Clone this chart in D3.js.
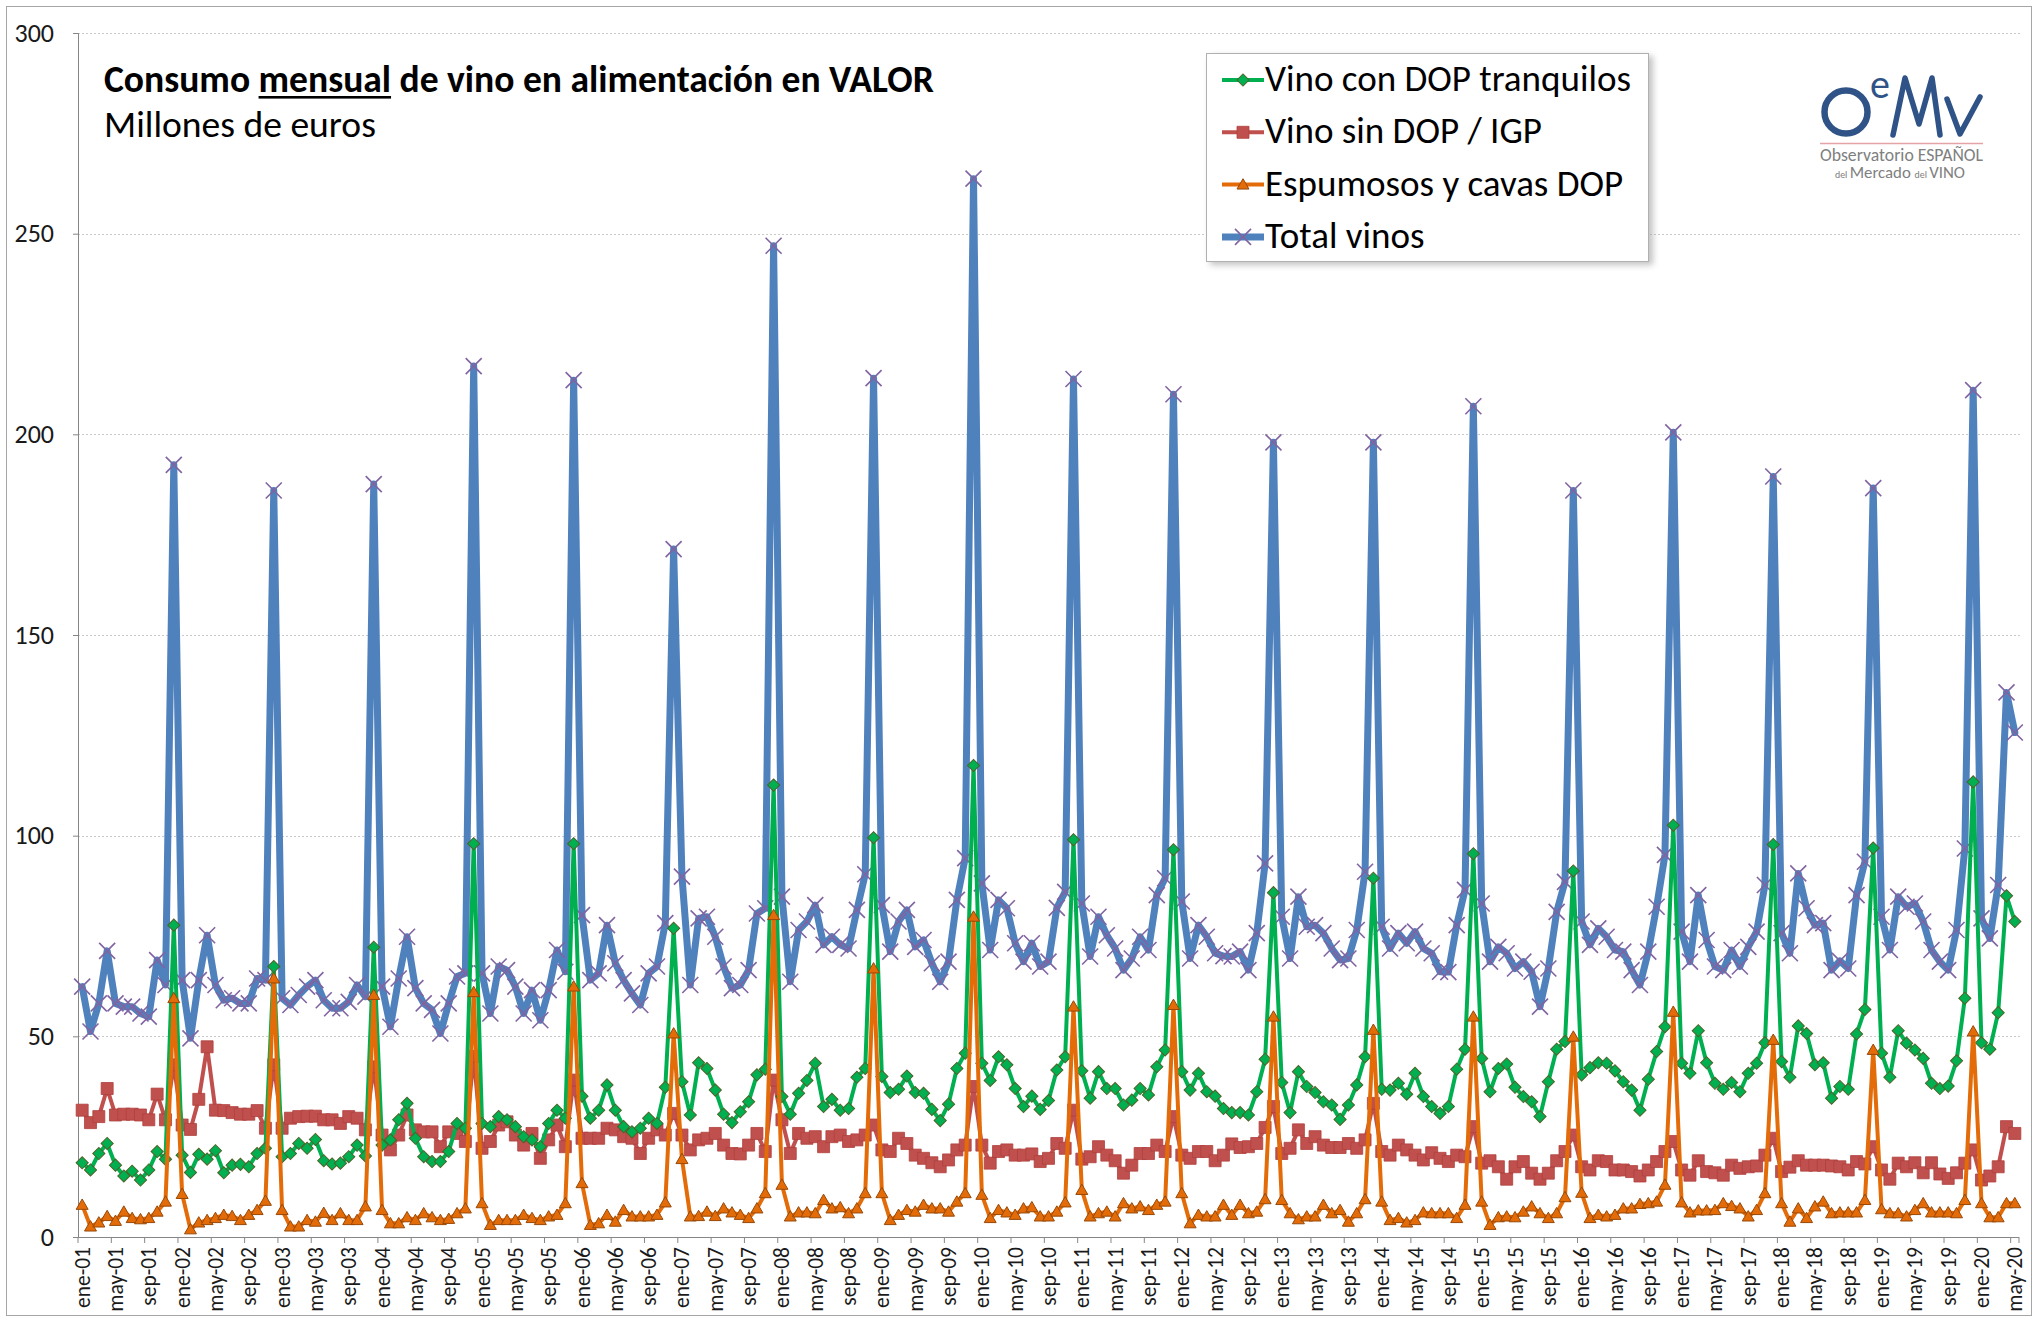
<!DOCTYPE html>
<html>
<head>
<meta charset="utf-8">
<script src="https://cdn.jsdelivr.net/npm/d3@7"></script>
<style>
    body { margin: 0; background: #fff; }
    svg { display: block; }
    text { font-family: Carlito, Calibri, Lato, 'Open Sans', sans-serif; }
</style>
</head>
<body>
<svg id="chart" width="2039" height="1323"></svg>
<script>
(function () {
    'use strict';

    // categories: ene-01 .. may-20
    var MONTHS = ['ene', 'feb', 'mar', 'abr', 'may', 'jun', 'jul', 'ago', 'sep', 'oct', 'nov', 'dic'];
    var FIRST_YEAR = 2001;
    var N_MONTHS = 233;
    var Y_TICKS = [0, 50, 100, 150, 200, 250, 300];

    var SERIES_NAMES = ['Vino con DOP tranquilos', 'Vino sin DOP / IGP', 'Espumosos y cavas DOP', 'Total vinos'];

    var dopTranquilos = [
        18.5, 16.7, 20.8, 23.3, 17.9, 15.2, 16.4, 14.2, 16.7, 21.3, 19.4, 77.7,
        20.4, 16.1, 20.6, 19.4, 21.5, 16, 17.9, 18.1, 17.5, 20.8, 22.1, 67.4,
        20, 20.8, 23.3, 22.1, 24.3, 19, 18.2, 18.4, 20, 22.9, 20.2, 72.2,
        22.9, 24.2, 29.2, 33.3, 24.6, 20, 18.8, 18.8, 21.3, 28.3, 27.1, 98,
        28.3, 27.5, 30, 29.2, 27.5, 25, 24.2, 22.5, 28.3, 31.6, 29.6, 98,
        35.1, 29.6, 31.6, 37.9, 31.6, 27.5, 26.2, 27.1, 29.6, 28.3, 37.3, 76.9,
        38.7, 30.4, 43.4, 42, 36.6, 30.6, 28.5, 31.2, 33.7, 40.4, 41.8, 112.6,
        35, 30.6, 35.8, 39, 43.3, 32.5, 34.3, 31.6, 32, 39.8, 42, 99.5,
        40, 36, 36.8, 40.1, 36, 35.8, 31.8, 29, 33.1, 42, 45.8, 117.5,
        43.3, 39, 44.9, 42.9, 37, 32.5, 35.1, 31.8, 34, 41.6, 44.9, 99,
        41.4, 34.6, 41.2, 37, 37, 32.9, 34.1, 37, 35.4, 42.4, 46.6, 96.5,
        41.2, 36.6, 40.8, 36.2, 35.1, 32, 31, 31, 30.4, 36.2, 44.3, 85.8,
        38.5, 31, 41.2, 37.5, 36, 33.7, 32.9, 29.3, 32.9, 37.9, 44.9, 89.4,
        36.8, 36.6, 38.3, 35.6, 40.8, 35, 32.5, 30.8, 32.5, 41.8, 46.8, 95.5,
        44.5, 36.2, 42, 43.1, 37.3, 35, 33.7, 30, 38.7, 46.8, 48.7, 91.2,
        40.4, 42.2, 43.4, 43.3, 41.4, 38.7, 36.6, 31.6, 39.3, 46.2, 52.4, 102.6,
        43.3, 40.8, 51.4, 43.4, 38.3, 36.8, 38.5, 36.2, 40.8, 43.3, 48.4, 97.8,
        43.7, 39.8, 52.6, 50.7, 42.9, 43.4, 34.6, 37.5, 36.8, 50.6, 56.7, 96.9,
        45.8, 39.8, 51.4, 48.3, 46.6, 44.5, 38.3, 37, 37.6, 43.9, 59.5, 113.4,
        48.4, 46.8, 55.9, 85, 78.6
    ];

    var sinDop = [
        31.6, 28.5, 30, 37, 30.4, 30.6, 30.6, 30.4, 29.2, 35.6, 29.2, 42.9,
        27.9, 26.8, 34.3, 47.4, 31.6, 31.5, 31, 30.6, 30.6, 31.5, 27.1, 42.9,
        27.1, 29.6, 30, 30.1, 30.1, 29.2, 29.2, 28.3, 30, 29.6, 26.7, 42.4,
        25.4, 21.7, 25.4, 30.4, 26.7, 26.2, 26.2, 22.5, 26.2, 25.8, 23.8, 45,
        22.1, 23.8, 27.9, 28.7, 25.4, 22.9, 25.8, 19.6, 24.2, 27.9, 22.5, 39.1,
        24.6, 24.6, 24.6, 27.1, 26.7, 25, 24.6, 20.8, 24.6, 26.7, 25.4, 30.8,
        25.4, 21.7, 24.2, 24.6, 25.8, 22.9, 20.8, 20.7, 22.9, 25.8, 21.3, 39.1,
        29.2, 20.8, 25.8, 24.6, 25, 22.5, 25, 25.4, 23.8, 24.2, 25.4, 27.9,
        21.7, 21.3, 24.6, 23.3, 20.4, 19.6, 18.5, 17.5, 19.2, 21.7, 22.9, 37.5,
        22.9, 18.4, 21.3, 21.7, 20.4, 20.4, 20.7, 18.8, 19.6, 23.3, 22.1, 31.6,
        19.4, 20, 22.5, 20.4, 19, 15.9, 17.9, 20.8, 20.8, 22.9, 21.3, 30,
        20.4, 19.6, 21.3, 21.3, 19, 20.4, 23.2, 22.3, 22.5, 23.3, 27.3, 32.5,
        20.8, 22.1, 26.7, 23.3, 25, 22.9, 22.3, 22.3, 23.3, 22.1, 24.2, 33.3,
        21.3, 20.4, 22.9, 21.7, 20.4, 19.2, 21, 19.6, 18.8, 20.4, 20, 27.5,
        18.4, 19, 17.5, 14.4, 17.5, 18.8, 15.9, 14.4, 15.9, 19, 21.3, 25.4,
        17.5, 16.7, 19, 18.8, 16.7, 16.7, 16.3, 15.2, 16.7, 18.8, 21.3, 23.8,
        16.7, 15.4, 19, 16.3, 16, 15.4, 17.9, 17.1, 17.5, 17.7, 20.4, 24.6,
        16.3, 17.4, 19, 17.9, 17.9, 17.9, 17.7, 17.5, 16.7, 18.8, 18.2, 22.5,
        16.7, 14.4, 18.4, 17.5, 18.5, 16, 18.5, 15.7, 14.6, 16, 18.4, 21.7,
        14.2, 15.2, 17.5, 27.5, 25.8
    ];

    var espumosos = [
        8, 2.6, 3.6, 5.2, 4, 6.3, 4.7, 4.4, 4.7, 6.3, 8.8, 59.5,
        10.7, 1.9, 3.6, 4.2, 4.7, 5.5, 5.2, 4.2, 5.5, 6.7, 9, 64.4,
        6.7, 2.6, 2.6, 4.2, 3.8, 6, 4.2, 5.9, 4.2, 4.2, 7.6, 60.3,
        6.7, 3.4, 3.4, 4.9, 4.2, 5.9, 4.9, 4.2, 4.5, 5.9, 7.1, 61,
        8.4, 3, 4.2, 4.2, 4.2, 5.5, 4.7, 4.2, 5.1, 5.5, 8.4, 62.4,
        13.4, 3, 3.4, 5.5, 3.8, 6.7, 5.1, 5.1, 5.1, 5.5, 8.6, 50.7,
        19.4, 5.1, 5.2, 6.3, 5.2, 7.1, 6.1, 5.5, 4.7, 7.1, 10.9, 80.2,
        13, 5.1, 6.1, 6.1, 5.9, 9.2, 7.1, 7.4, 5.9, 7.1, 10.9, 66.9,
        10.9, 4.2, 5.5, 6.7, 6.3, 8, 7.1, 7.1, 6.3, 8.8, 10.9, 79.8,
        10.5, 4.7, 6.7, 6.1, 5.5, 7.1, 7.4, 5.1, 5.1, 6.3, 8.6, 57.4,
        11.7, 5.1, 5.9, 6.3, 5.1, 8.4, 7.1, 7.6, 6.7, 8, 8.8, 57.8,
        10.9, 3.4, 5.5, 5.1, 5.1, 8, 5.5, 8, 5.9, 6.3, 9.4, 54.9,
        9.2, 5.9, 4.4, 5.1, 5.1, 8, 5.9, 6.7, 3.8, 5.9, 9.4, 51.6,
        8.8, 4.2, 4.7, 3.6, 4.2, 6.1, 5.9, 5.9, 5.9, 4.7, 8, 54.9,
        8.8, 3, 4.9, 5.1, 4.9, 6.3, 7.6, 5.9, 4.7, 5.9, 9.9, 49.9,
        11, 4.7, 5.5, 5.1, 5.5, 7.1, 7.1, 8.2, 8.4, 8.8, 13, 56.1,
        8.6, 6.1, 6.6, 6.6, 6.7, 8.4, 7.7, 7.1, 5.1, 6.7, 10.9, 49.1,
        8.4, 3.8, 7.1, 4.7, 7.6, 8.8, 5.9, 6.1, 6.1, 6.1, 9.2, 46.6,
        6.9, 5.9, 5.9, 5.1, 6.7, 8.4, 6.1, 6.1, 6.1, 5.9, 9.2, 51.2,
        8.4, 4.9, 4.9, 8.4, 8.4
    ];

    var totalVinos = [
        62.4, 51.2, 58.2, 71.3, 58.2, 57.4, 57.4, 55.7, 54.9, 69, 62.8, 192.4,
        64, 49.5, 64, 75.2, 62.8, 59, 59.5, 58.2, 58.2, 64.4, 64, 186,
        59.5, 57.8, 60.3, 62.4, 64, 59, 57, 57, 58.6, 62.8, 59.9, 187.6,
        62.4, 52.4, 64.4, 74.8, 62, 58.2, 56.6, 50.7, 58.2, 64.9, 65.7, 217,
        65.7, 55.7, 67.4, 66.5, 62.4, 55.7, 61.5, 54, 61.5, 71.5, 66.1, 213.5,
        80.2, 64, 65.7, 77.7, 68.2, 64, 60.7, 57.8, 65.7, 67.4, 78.2, 171.4,
        89.8, 62.8, 79.4, 79.8, 74.8, 67.4, 62, 62.8, 66.5, 80.6, 81.9, 247,
        84.8, 63.6, 76.5, 78.6, 82.7, 72.8, 74.8, 72.8, 71.9, 81.5, 90.4, 214,
        82.7, 71.1, 78.6, 81.5, 72.3, 74, 68.2, 63.6, 68.6, 84, 94.4, 263.7,
        88.1, 71.5, 84, 81.9, 73.2, 68.6, 73.2, 67.4, 68.6, 82, 86, 213.8,
        83.1, 69.9, 79.8, 75.2, 71.9, 66.5, 69.4, 74.8, 71.5, 85.2, 89.4, 210,
        83.6, 69.4, 77.7, 74.8, 70.7, 70, 69.9, 71.1, 66.5, 75.7, 93.1, 198,
        79.8, 69.4, 84.8, 77.3, 77.7, 75.7, 71.9, 69, 69.4, 76.5, 91, 198,
        77.3, 71.9, 75.7, 73.2, 76.1, 71.9, 70.7, 66.1, 66, 77.7, 86.5, 207,
        83.1, 68.6, 72.3, 70.7, 66.9, 68.6, 66.1, 57.4, 66.9, 81, 88.5, 186,
        78.6, 72.8, 76.9, 74.8, 71.5, 71.1, 66.5, 62.8, 71.1, 82.3, 95.2, 200.5,
        76.1, 68.6, 85.2, 74, 67.4, 66.5, 71.5, 67.4, 72.3, 76.1, 87.7, 189.5,
        75.7, 70.7, 90.6, 81.9, 77.7, 78.2, 66.5, 68.8, 66.9, 85.2, 93.5, 186.6,
        79.8, 71.5, 84.8, 82.3, 83.1, 78.6, 71.5, 68.6, 66.5, 76.5, 96.8, 211,
        79.4, 74.4, 87.7, 135.7, 125.7
    ];

    var categories = d3.range(N_MONTHS).map(function (i) {
        var yy = (FIRST_YEAR + Math.floor(i / 12)) % 100;
        return MONTHS[i % 12] + '-' + (yy < 10 ? '0' + yy : '' + yy);
    });

    var svg = d3.select('#chart');
    var W = 2039, H = 1323;
    var plot = { left: 78, right: 2019, top: 33, bottom: 1237 };

    var x = d3.scaleBand()
        .domain(d3.range(N_MONTHS))
        .range([plot.left, plot.right])
        .paddingInner(0)
        .paddingOuter(0);

    var cx = function (i) { return x(i) + x.bandwidth() / 2; };

    var y = d3.scaleLinear()
        .domain([0, 300])
        .range([plot.bottom, plot.top]);

    // outer frame
    svg.append('rect')
        .attr('x', 6.5).attr('y', 6.5)
        .attr('width', W - 14).attr('height', H - 14)
        .attr('fill', '#fff')
        .attr('stroke', '#a6a6a6')
        .attr('stroke-width', 1);

    // grid
    svg.append('g')
        .selectAll('line')
        .data(Y_TICKS.filter(function (v) { return v > 0; }))
        .enter().append('line')
        .attr('x1', plot.left).attr('x2', plot.right + 3)
        .attr('y1', function (d) { return Math.round(y(d)) + 0.5; })
        .attr('y2', function (d) { return Math.round(y(d)) + 0.5; })
        .attr('stroke', '#c9c9c9')
        .attr('stroke-dasharray', '2,2');

    // y axis
    var yAxis = svg.append('g')
        .attr('transform', 'translate(' + plot.left + ',0)')
        .call(d3.axisLeft(y).tickValues(Y_TICKS).tickSize(5).tickPadding(19));
    yAxis.select('.domain').attr('stroke', '#868686');
    yAxis.selectAll('.tick line').attr('stroke', '#868686');
    yAxis.selectAll('.tick text')
        .attr('font-size', 26)
        .attr('fill', '#1a1a1a')
        .style('font-family', 'Carlito, Calibri, Lato, sans-serif');

    // x axis
    var tickIdx = d3.range(0, N_MONTHS, 4);
    var xg = svg.append('g');
    xg.append('line')
        .attr('x1', plot.left).attr('x2', plot.right)
        .attr('y1', plot.bottom + 0.5).attr('y2', plot.bottom + 0.5)
        .attr('stroke', '#868686');
    xg.selectAll('line.tk')
        .data(tickIdx.concat([N_MONTHS]))
        .enter().append('line')
        .attr('class', 'tk')
        .attr('x1', function (i) { return i < N_MONTHS ? x(i) : plot.right; })
        .attr('x2', function (i) { return i < N_MONTHS ? x(i) : plot.right; })
        .attr('y1', plot.bottom)
        .attr('y2', plot.bottom + 6)
        .attr('stroke', '#868686');
    var xl = xg.selectAll('text')
        .data(tickIdx)
        .enter().append('text')
        .attr('transform', function (i) {
            return 'translate(' + cx(i) + ',' + (plot.bottom + 10) + ') rotate(-90)';
        })
        .attr('dy', '0.35em')
        .attr('text-anchor', 'end')
        .attr('font-size', 20)
        .attr('fill', '#1a1a1a')
        .text(function (i) { return categories[i]; });
    fitFont(d3.select(xl.nodes()[0]), 61, xl);

    // series
    var series = [
        { name: SERIES_NAMES[3], values: totalVinos, color: '#4f81bd', width: 7, marker: 'x' },
        { name: SERIES_NAMES[1], values: sinDop, color: '#c0504d', width: 4, marker: 'square' },
        { name: SERIES_NAMES[0], values: dopTranquilos, color: '#00b050', width: 4, marker: 'diamond' },
        { name: SERIES_NAMES[2], values: espumosos, color: '#e36c09', width: 4, marker: 'triangle' }
    ];

    var line = d3.line()
        .x(function (d, i) { return cx(i); })
        .y(function (d) { return y(d); });

    var symSquare = d3.symbol().type(d3.symbolSquare).size(144)();
    var symDiamond = d3.symbol().type(d3.symbolSquare).size(74)();
    var symTriangle = d3.symbol().type(d3.symbolTriangle).size(62)();
    var symX = 'M-8,-8L8,8M-8,8L8,-8';

    function drawMarker(g, kind, color) {
        if (kind === 'x') {
            g.append('path').attr('d', symX)
                .attr('fill', 'none').attr('stroke', '#8064a2').attr('stroke-width', 1.6);
        } else if (kind === 'square') {
            g.append('path').attr('d', symSquare)
                .attr('fill', color).attr('stroke', '#b0403d').attr('stroke-width', 0.8);
        } else if (kind === 'diamond') {
            g.append('path').attr('d', symDiamond)
                .attr('transform', 'rotate(45)')
                .attr('fill', color).attr('stroke', '#4f6228').attr('stroke-width', 1);
        } else {
            g.append('path').attr('d', symTriangle)
                .attr('transform', 'translate(0,1)')
                .attr('fill', color).attr('stroke', '#984807').attr('stroke-width', 1);
        }
    }

    series.forEach(function (s) {
        var g = svg.append('g');
        g.append('path')
            .datum(s.values)
            .attr('d', line)
            .attr('fill', 'none')
            .attr('stroke', s.color)
            .attr('stroke-width', s.width)
            .attr('stroke-linejoin', 'round')
            .attr('stroke-linecap', 'round');
        g.selectAll('g.m')
            .data(s.values)
            .enter().append('g')
            .attr('class', 'm')
            .attr('transform', function (d, i) {
                return 'translate(' + cx(i) + ',' + y(d) + ')';
            })
            .each(function () { drawMarker(d3.select(this), s.marker, s.color); });
    });

    // title
    var title = svg.append('text')
        .attr('x', 104).attr('y', 92)
        .attr('font-size', 31)
        .attr('font-weight', 'bold')
        .attr('fill', '#000');
    title.append('tspan').text('Consumo ');
    title.append('tspan').text('mensual');
    title.append('tspan').text(' de vino en alimentación en VALOR');
    fitFont(title, 830);
    var tnode = title.node();
    var u0 = tnode.getSubStringLength(0, 8);
    var u1 = tnode.getSubStringLength(8, 7);
    svg.append('rect')
        .attr('x', 104 + u0).attr('y', 96)
        .attr('width', u1).attr('height', 2.6)
        .attr('fill', '#000');

    var sub = svg.append('text')
        .attr('x', 104).attr('y', 137)
        .attr('font-size', 31)
        .attr('fill', '#000')
        .text('Millones de euros');
    fitFont(sub, 272);

    // legend
    var lg = svg.append('g');
    var defs = svg.append('defs');
    var f = defs.append('filter').attr('id', 'sh').attr('x', '-10%').attr('y', '-10%').attr('width', '130%').attr('height', '130%');
    f.append('feGaussianBlur').attr('stdDeviation', 3);
    lg.append('rect')
        .attr('x', 1210).attr('y', 56).attr('width', 443).attr('height', 209)
        .attr('fill', '#9a9a9a').attr('opacity', 0.6).attr('filter', 'url(#sh)');
    lg.append('rect')
        .attr('x', 1206.5).attr('y', 53.5).attr('width', 442).attr('height', 208)
        .attr('fill', '#fff').attr('stroke', '#b0b0b0');

    var legendItems = [series[2], series[1], series[3], series[0]];
    var legendTexts = [];
    legendItems.forEach(function (s, k) {
        var cy = 80 + k * 52.3;
        var g = lg.append('g');
        g.append('line')
            .attr('x1', 1222).attr('x2', 1264)
            .attr('y1', cy).attr('y2', cy)
            .attr('stroke', s.color).attr('stroke-width', s.width);
        var m = g.append('g').attr('transform', 'translate(1243,' + cy + ')');
        drawMarker(m, s.marker, s.color);
        var t = g.append('text')
            .attr('x', 1265).attr('y', cy + 11)
            .attr('font-size', 31)
            .attr('fill', '#000')
            .text(s.name);
        legendTexts.push(t.node());
    });
    fitFont(d3.select(legendTexts[0]), 366, d3.selectAll(legendTexts));

    // logo
    var logo = svg.append('g');
    var blue = '#2f5387';
    logo.append('circle')
        .attr('cx', 1846).attr('cy', 112).attr('r', 21.5)
        .attr('fill', 'none').attr('stroke', blue).attr('stroke-width', 6.5);
    logo.append('text')
        .attr('x', 1870).attr('y', 98)
        .attr('font-size', 40).attr('fill', blue)
        .text('e');
    logo.append('path')
        .attr('d', 'M1893,135L1905,78L1919,124L1932,78L1940,135')
        .attr('fill', 'none').attr('stroke', blue).attr('stroke-width', 5.5)
        .attr('stroke-linejoin', 'round').attr('stroke-linecap', 'round');
    logo.append('path')
        .attr('d', 'M1947,99L1960,134L1980,97')
        .attr('fill', 'none').attr('stroke', blue).attr('stroke-width', 5.5)
        .attr('stroke-linejoin', 'round').attr('stroke-linecap', 'round');
    logo.append('line')
        .attr('x1', 1820).attr('x2', 1983).attr('y1', 143.5).attr('y2', 143.5)
        .attr('stroke', '#e5a3a6').attr('stroke-width', 1.5);
    logo.append('text')
        .attr('x', 1820).attr('y', 161)
        .attr('font-size', 18).attr('fill', '#808080')
        .attr('textLength', 163).attr('lengthAdjust', 'spacingAndGlyphs')
        .text('Observatorio ESPAÑOL');
    var l2 = logo.append('text')
        .attr('x', 1835).attr('y', 178)
        .attr('font-size', 17).attr('fill', '#808080')
        .attr('textLength', 130).attr('lengthAdjust', 'spacingAndGlyphs');
    l2.append('tspan').attr('font-size', 10).text('del ');
    l2.append('tspan').text('Mercado ');
    l2.append('tspan').attr('font-size', 10).text('del ');
    l2.append('tspan').text('VINO');

    // scale font size so that the reference node reaches the target width
    function fitFont(refSel, target, applyTo) {
        var w = refSel.node().getComputedTextLength();
        var fs = parseFloat(refSel.attr('font-size'));
        var nfs = fs * target / w;
        (applyTo || refSel).attr('font-size', nfs);
    }
})();
</script>
</body>
</html>
